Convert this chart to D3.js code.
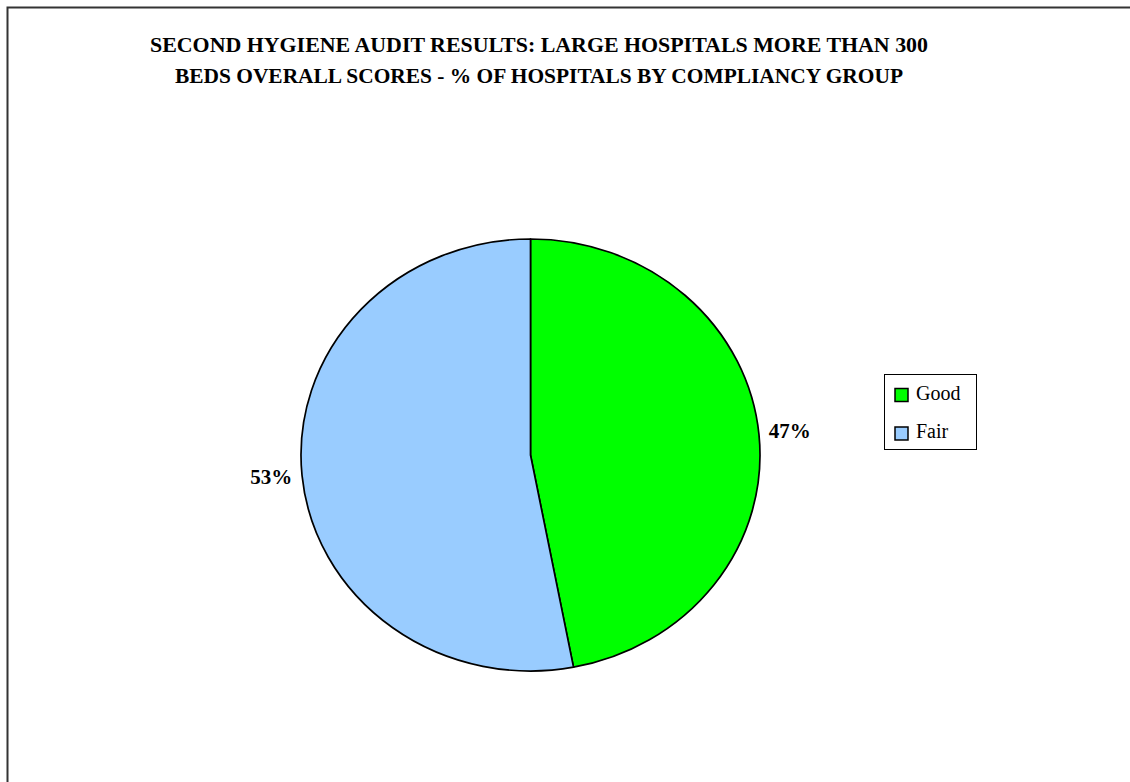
<!DOCTYPE html>
<html>
<head>
<meta charset="utf-8">
<script src="https://cdn.jsdelivr.net/npm/d3@7"></script>
<style>
  html, body { margin: 0; padding: 0; background: #fff; }
  svg { display: block; }
</style>
</head>
<body>
<svg id="chart" width="1130" height="782"></svg>
<script>
const titleLines = [
  "SECOND HYGIENE AUDIT RESULTS: LARGE HOSPITALS MORE THAN 300",
  "BEDS OVERALL SCORES - % OF HOSPITALS BY COMPLIANCY GROUP"
];
const categories = ["Good", "Fair"];
const values = [47, 53];
const colors = ["#00ff00", "#99ccff"];

const svg = d3.select("#chart");
const W = 1130, H = 782;
const serif = "'Liberation Serif', 'Times New Roman', serif";

// outer frame
svg.append("rect")
  .attr("x", 7.5).attr("y", 7.5)
  .attr("width", W + 20).attr("height", H + 20)
  .attr("fill", "none").attr("stroke", "#333").attr("stroke-width", 2);

// title
const titleWidths = [778, 728];
const title = svg.append("text")
  .attr("font-family", serif)
  .attr("font-weight", "bold")
  .attr("font-size", 21)
  .attr("text-anchor", "middle")
  .attr("fill", "#000");
title.selectAll("tspan").data(titleLines).join("tspan")
  .attr("x", 539)
  .attr("y", (d, i) => 52 + i * 31)
  .attr("textLength", (d, i) => titleWidths[i])
  .attr("lengthAdjust", "spacingAndGlyphs")
  .text(d => d);

// pie
const cx = 530.5, cy = 455, rx = 229.5, ry = 216;
const data = categories.map((c, i) => ({ name: c, value: values[i], color: colors[i] }));
const pie = d3.pie().sort(null).value(d => d.value);
const arcs = pie(data);
const arc = d3.arc().innerRadius(0).outerRadius(ry);

const g = svg.append("g")
  .attr("transform", `translate(${cx},${cy}) scale(${rx / ry},1)`);
g.selectAll("path").data(arcs).join("path")
  .attr("d", arc)
  .attr("fill", d => d.data.color)
  .attr("stroke", "#000")
  .attr("stroke-width", 1.7)
  .attr("vector-effect", "non-scaling-stroke")
  .attr("stroke-linejoin", "round");

// labels
const fmt = d3.format(".0%");
const total = d3.sum(values);
svg.selectAll("text.lbl").data(arcs).join("text")
  .attr("class", "lbl")
  .attr("font-family", serif)
  .attr("font-weight", "bold")
  .attr("font-size", 21)
  .attr("text-anchor", "middle")
  .attr("x", d => {
    const a = (d.startAngle + d.endAngle) / 2;
    return cx + Math.sin(a) * (rx + 31);
  })
  .attr("y", d => {
    const a = (d.startAngle + d.endAngle) / 2;
    return cy - Math.cos(a) * (ry + 31) + 6;
  })
  .text(d => fmt(d.data.value / total));

// legend
const lg = svg.append("g").attr("transform", "translate(884,374)");
lg.append("rect")
  .attr("x", 0.5).attr("y", 0.5).attr("width", 92).attr("height", 75)
  .attr("fill", "#fff").attr("stroke", "#000").attr("stroke-width", 1);
const items = lg.selectAll("g.item").data(data).join("g")
  .attr("class", "item")
  .attr("transform", (d, i) => `translate(0,${i * 38.5})`);
items.append("rect")
  .attr("x", 11).attr("y", 14.5).attr("width", 13).attr("height", 13)
  .attr("fill", d => d.color).attr("stroke", "#000").attr("stroke-width", 1.5);
items.append("text")
  .attr("x", 32).attr("y", 25.5)
  .attr("font-family", serif)
  .attr("font-size", 20)
  .attr("fill", "#000")
  .text(d => d.name);
</script>
</body>
</html>
